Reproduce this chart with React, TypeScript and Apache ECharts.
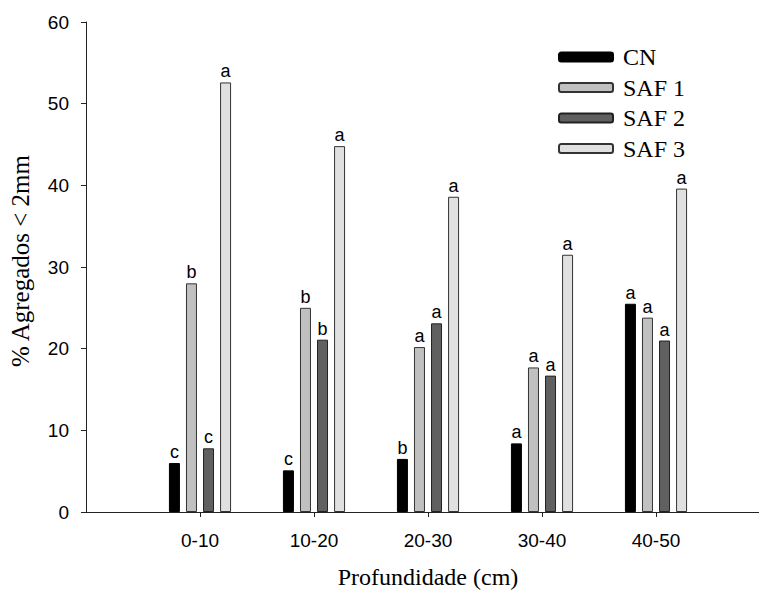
import React, { useEffect, useRef } from "react";
import * as echarts from "echarts";

const categories = ["0-10", "10-20", "20-30", "30-40", "40-50"];
const seriesNames = ["CN", "SAF 1", "SAF 2", "SAF 3"];
const cnValues = [6.0, 5.1, 6.5, 8.4, 25.5];
const saf1Values = [28.0, 25.0, 20.2, 17.7, 23.8];
const saf2Values = [7.8, 21.1, 23.1, 16.7, 21.0];
const saf3Values = [52.6, 44.8, 38.6, 31.5, 39.6];
const cnLetters = ["c", "c", "b", "a", "a"];
const saf1Letters = ["b", "b", "a", "a", "a"];
const saf2Letters = ["c", "b", "a", "a", "a"];
const saf3Letters = ["a", "a", "a", "a", "a"];
const yTicks = [0, 10, 20, 30, 40, 50, 60];

const allValues = [cnValues, saf1Values, saf2Values, saf3Values];
const allLetters = [cnLetters, saf1Letters, saf2Letters, saf3Letters];
const fills = ["#000000", "#c0c0c0", "#606060", "#e0e0e0"];
const borders = ["#000000", "#333333", "#222222", "#333333"];

export default function App() {
  const ref = useRef<HTMLDivElement>(null);
  useEffect(() => {
    if (!ref.current) return;
    const chart = echarts.init(ref.current, null, { renderer: "svg" });
    const positions = categories.map((_, i) => i + 1);
    chart.setOption({
      animation: false,
      backgroundColor: "#ffffff",
      grid: { left: 85, top: 22, right: 10, bottom: 80, containLabel: false },
      legend: {
        orient: "vertical",
        left: 553,
        top: 40,
        itemWidth: 54,
        itemHeight: 9,
        itemGap: 6.5,
        data: seriesNames,
        textStyle: {
          fontFamily: "Liberation Serif",
          fontSize: 24,
          color: "#000",
          lineHeight: 24,
          padding: [0, 0, 0, 5],
        },
      },
      xAxis: {
        type: "value",
        min: 0,
        max: 6,
        interval: 1,
        name: "Profundidade (cm)",
        nameLocation: "middle",
        nameGap: 53,
        nameTextStyle: { fontFamily: "Liberation Serif", fontSize: 24, color: "#000" },
        splitLine: { show: false },
        axisLine: { show: true, lineStyle: { color: "#222", width: 1 } },
        axisTick: { show: true, length: 5, lineStyle: { color: "#222" }, customValues: positions },
        axisLabel: {
          customValues: positions,
          margin: 19,
          fontFamily: "Liberation Sans",
          fontSize: 19,
          color: "#000",
          formatter: (v: number) => categories[Math.round(v) - 1] ?? "",
        },
      },
      yAxis: {
        type: "value",
        min: 0,
        max: 60,
        interval: 10,
        name: "% Agregados < 2mm",
        nameLocation: "middle",
        nameGap: 53,
        nameTextStyle: {
          fontFamily: "Liberation Serif",
          fontSize: 25,
          color: "#000",
          padding: [0, 0, 0, 12],
        },
        splitLine: { show: false },
        axisLine: { show: true, lineStyle: { color: "#222", width: 1 } },
        axisTick: { show: true, length: 5, lineStyle: { color: "#222" } },
        axisLabel: {
          margin: 17,
          fontFamily: "Liberation Sans",
          fontSize: 19,
          color: "#000",
          customValues: yTicks,
        },
      },
      series: seriesNames.map((name, s) => ({
        name,
        type: "bar",
        barWidth: 11,
        barGap: "55%",
        data: allValues[s].map((v, i) => [positions[i], v]),
        itemStyle: { color: fills[s], borderColor: borders[s], borderWidth: 1 },
        label: {
          show: true,
          position: "top",
          distance: 2,
          fontFamily: "Liberation Sans",
          fontSize: 18,
          color: "#000",
          formatter: (p: any) => allLetters[s][p.dataIndex],
        },
      })),
    });
    return () => chart.dispose();
  }, []);
  return (
    <div
      ref={ref}
      style={{ position: "fixed", left: 0, top: 0, width: 780, height: 594 }}
    />
  );
}
